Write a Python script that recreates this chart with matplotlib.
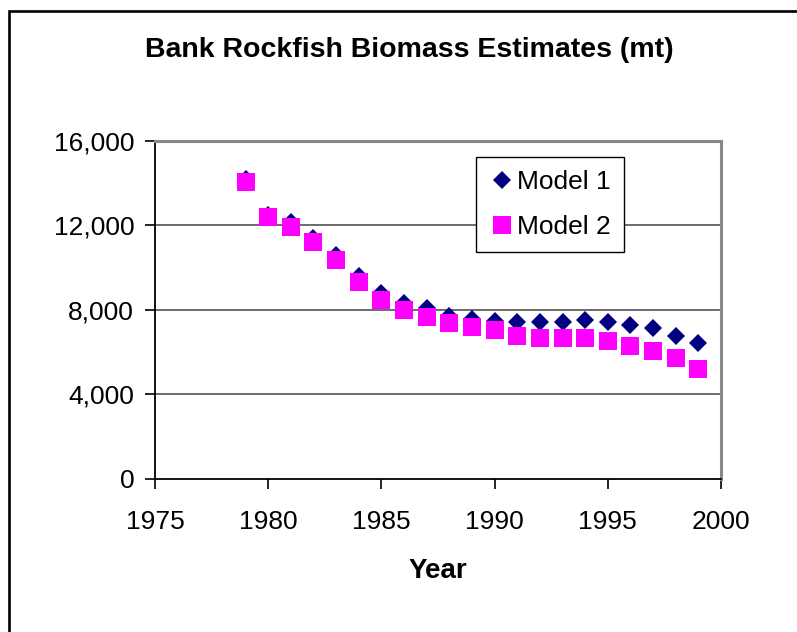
import matplotlib
matplotlib.use("Agg")
import matplotlib.pyplot as plt
from matplotlib.patches import Rectangle
from matplotlib.ticker import FuncFormatter

years = list(range(1979, 2000))
model1 = [14200, 12500, 12150, 11400, 10600, 9620, 8800, 8320, 8080, 7700, 7570,
          7450, 7420, 7410, 7410, 7500, 7400, 7260, 7130, 6770, 6420]
model2 = [14080, 12420, 11930, 11220, 10380, 9300, 8460, 7970, 7640, 7370, 7160,
          7020, 6770, 6650, 6650, 6650, 6530, 6300, 6060, 5700, 5210]
xticks = [1975, 1980, 1985, 1990, 1995, 2000]
yticks = [0, 4000, 8000, 12000, 16000]

plt.rcParams['font.family'] = ['Liberation Sans', 'DejaVu Sans']

fig = plt.figure(figsize=(7.97, 6.32), dpi=100)
W, H = 797, 632
ax = fig.add_axes([155 / W, 1 - 478.5 / H, (721 - 155) / W, (478.5 - 141) / H])

ax.plot(years, model1, linestyle='none', marker='D', markersize=9.2,
        color='#000080', markeredgewidth=0, label='Model 1', zorder=3)
ax.plot(years, model2, linestyle='none', marker='s', markersize=12.5,
        color='#FF00FF', markeredgewidth=0, label='Model 2', zorder=4)

ax.set_xlim(1975, 2000)
ax.set_ylim(0, 16000)
ax.set_xticks(xticks)
ax.set_yticks(yticks)
ax.yaxis.set_major_formatter(FuncFormatter(lambda v, p: f"{int(v):,}"))
ax.tick_params(axis='both', labelsize=19, length=7, width=1.2, direction='out', color='black')
ax.tick_params(axis='x', pad=16)
ax.tick_params(axis='y', pad=8)

for y in [4000, 8000, 12000]:
    ax.axhline(y, color='#606060', lw=1.3, zorder=1)

ax.spines['left'].set_color('black')
ax.spines['left'].set_linewidth(1.3)
ax.spines['bottom'].set_color('black')
ax.spines['bottom'].set_linewidth(1.3)
ax.spines['top'].set_color('#888888')
ax.spines['top'].set_linewidth(2.2)
ax.spines['right'].set_color('#888888')
ax.spines['right'].set_linewidth(2.2)

leg = ax.legend(loc='upper left', bbox_to_anchor=(0.568, 0.953), fontsize=19,
                frameon=True, fancybox=False, edgecolor='black', framealpha=1,
                borderpad=0.5, labelspacing=0.8, handletextpad=0.15,
                handlelength=0.9, borderaxespad=0)
leg.get_frame().set_linewidth(1.0)
leg.set_zorder(5)

fig.text(409 / W, 1 - 50 / H, 'Bank Rockfish Biomass Estimates (mt)',
         ha='center', va='center', fontsize=20.5, fontweight='bold')
fig.text(438 / W, 1 - 571 / H, 'Year', ha='center', va='center',
         fontsize=20, fontweight='bold')

fig.patches.append(Rectangle((8.5 / W, -0.1), 1.2, 1 - 11 / H + 0.1,
                             transform=fig.transFigure, fill=False,
                             edgecolor='black', linewidth=1.9))

fig.savefig('out.png', dpi=100)
